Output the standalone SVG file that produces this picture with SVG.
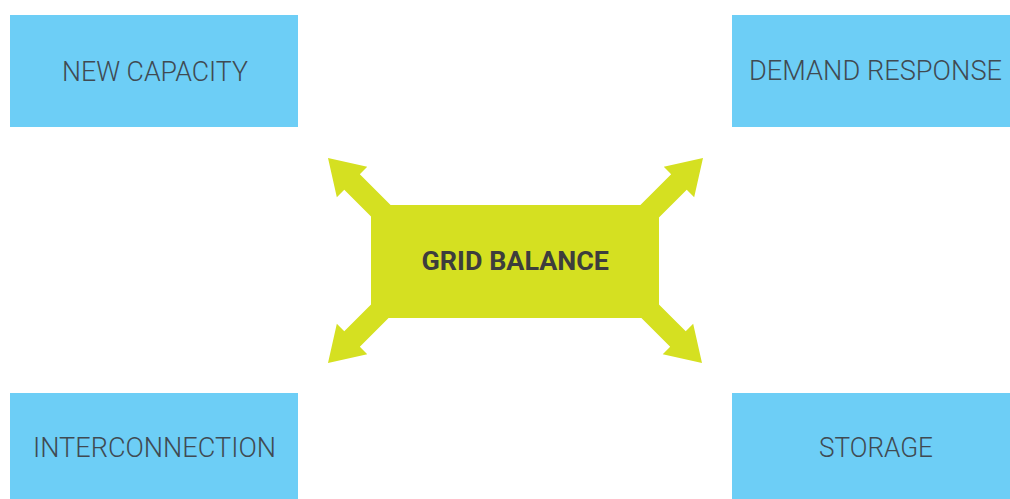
<svg xmlns="http://www.w3.org/2000/svg" width="1010" height="499" viewBox="0 0 1010 499">
  <style>
    .box { fill: #6dcef6; }
    .lbl { font-family: Roboto, "Liberation Sans", sans-serif; font-weight: 300; font-size: 28px; fill: #404a52; }
    .arrow { fill: #d5e021; }
    .center { fill: #d5e021; }
    .clbl { font-family: Roboto, "Liberation Sans", sans-serif; font-weight: 700; font-size: 25px; fill: #3d3d3d; }
  </style>
  <defs>
    <polygon id="arr" points="0,0 34,-21.5 34,-11 80,-11 80,11 34,11 34,21.5"/>
  </defs>
  <g id="connectors">
    <use href="#arr" class="arrow" transform="translate(328,158) rotate(45)"/>
    <use href="#arr" class="arrow" transform="translate(703,158) rotate(135)"/>
    <use href="#arr" class="arrow" transform="translate(328,363) rotate(-45)"/>
    <use href="#arr" class="arrow" transform="translate(702,363) rotate(-135)"/>
  </g>
  <g id="grid-balance">
    <rect class="center" x="371" y="205" width="288" height="113"/>
    <text class="clbl" x="421.5" y="270" textLength="187.5" lengthAdjust="spacingAndGlyphs">GRID BALANCE</text>
  </g>
  <g id="new-capacity">
    <rect class="box" x="10" y="15" width="288" height="112"/>
    <text class="lbl" x="62" y="80.5" textLength="186" lengthAdjust="spacingAndGlyphs">NEW CAPACITY</text>
  </g>
  <g id="demand-response">
    <rect class="box" x="732" y="15" width="278" height="112"/>
    <text class="lbl" x="749" y="80" textLength="253" lengthAdjust="spacingAndGlyphs">DEMAND RESPONSE</text>
  </g>
  <g id="interconnection">
    <rect class="box" x="10" y="393" width="288" height="106"/>
    <text class="lbl" x="33" y="457" textLength="243" lengthAdjust="spacingAndGlyphs">INTERCONNECTION</text>
  </g>
  <g id="storage">
    <rect class="box" x="732" y="393" width="278" height="106"/>
    <text class="lbl" x="819" y="457" textLength="114" lengthAdjust="spacingAndGlyphs">STORAGE</text>
  </g>
</svg>
